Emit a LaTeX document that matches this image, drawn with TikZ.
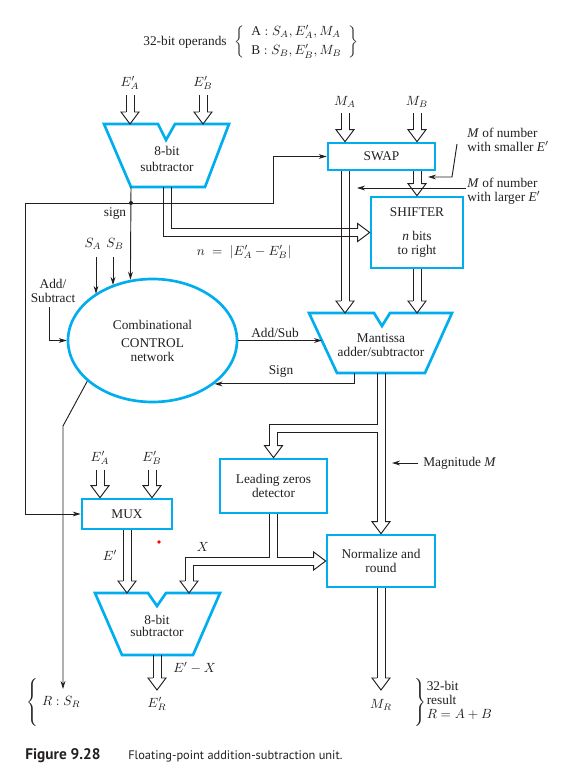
\documentclass[tikz,border=0pt]{standalone}
\usepackage{fontspec}
\setmainfont{Liberation Serif}
\newfontfamily\capfont{PT Sans}
\usetikzlibrary{positioning, calc, arrows.meta, shapes.geometric}
\definecolor{boxblue}{RGB}{0, 174, 239}
\definecolor{ink}{RGB}{35, 31, 32}

\tikzset{
  box/.style={draw=boxblue, line width=2pt, rectangle, inner sep=0pt, align=center},
  alu/.style={draw=boxblue, line width=2pt, line join=miter},
  lbl/.style={inner sep=0pt, outer sep=4pt, text=ink},
  wire/.style={draw=ink, line width=0.7pt},
  sig/.style={wire, -{Stealth[length=6pt, width=3.6pt]}}
}
% open head of a hollow bus, tip at #2, turned by #1
\newcommand{\bushd}[2][-90]{\draw[wire, line join=miter, shift={(#2)}, rotate=#1] (-12,4) -- (-12,9) -- (0,0) -- (-12,-9) -- (-12,-4);}
% straight hollow bus going down from #1 to the tip #2
\newcommand{\vbus}[2]{\draw[wire] ([xshift=-3pt]#1) -- ([xshift=-3pt,yshift=9pt]#2); \draw[wire] ([xshift=3pt]#1) -- ([xshift=3pt,yshift=9pt]#2); \bushd{#2}}

\begin{document}
\begin{tikzpicture}[x=0.75pt, y=-0.75pt, font=\fontsize{10}{10.5}\selectfont, text=ink]
  \useasboundingbox (0,0) rectangle (573,777);

  % operands
  \node[lbl] (ops) at (185,42) {32-bit operands};
  \node[lbl, right=-2pt of ops] (opsAB) {$\left\{\begin{array}{l}\mathrm{A} : S_A, E'_A, M_A\\[4pt] \mathrm{B} : S_B, E'_B, M_B\end{array}\right\}$};

  % exponent subtractor
  \node[lbl] (ea1) at (130,83) {$E'_A$};
  \node[lbl] (eb1) at (203,83) {$E'_B$};
  \draw[alu] (104,124) -- (158,124) -- (166,140) -- (175,124) -- (229,124) -- (205,187) -- (131,187) -- cycle;
  \node[lbl, align=center] (sub1) at (167,159) {8-bit\\[1pt]subtractor};
  \coordinate (s1a) at (130,124);
  \coordinate (s1b) at (203,124);
  \coordinate (s1sign) at (131,187);
  \coordinate (s1n) at (167,187);
  \coordinate (j) at (131,203);

  % swap and shifter
  \node[lbl] (ma) at (345,102) {$M_A$};
  \node[lbl] (mb) at (417,102) {$M_B$};
  \node[box, minimum width=80.25pt, minimum height=20.25pt] (swap) at (381.5,156.5) {SWAP};
  \node[box, minimum width=69pt, minimum height=53.25pt] (shifter) at (417,232.5) {SHIFTER\\[8pt]\textit{n} bits\\to right};
  \node[lbl, anchor=west, align=left] (smallE) at (462,140) {\textit{M} of number\\with smaller \textit{E}$'$};
  \node[lbl, anchor=west, align=left] (largeE) at (462,191) {\textit{M} of number\\with larger \textit{E}$'$};
  \node[lbl] (nlab) at (244,252) {$n\;=\;\left|E'_A - E'_B\right|$};
  \coordinate (swA) at (swap.north -| ma);
  \coordinate (swB) at (swap.north -| mb);
  \coordinate (swAo) at (swap.south -| ma);
  \coordinate (swBo) at (swap.south -| mb);

  % control network
  \node[lbl] (sgn) at (115,214) {sign};
  \node[lbl] (sa) at (93,244) {$S_A$};
  \node[lbl] (sb) at (115,244) {$S_B$};
  \node[lbl, align=center] (addsub) at (53,291) {Add/\\Subtract};
  \node[draw=boxblue, line width=2pt, ellipse, inner sep=0pt, minimum width=126.75pt, minimum height=92.25pt, align=center] (ctrl) at (152.5,340.5) {Combinational\\[3pt]CONTROL\\network};

  % mantissa adder
  \draw[alu] (309,313) -- (374,313) -- (382,326) -- (390,313) -- (452,313) -- (425,373) -- (337,373) -- cycle;
  \node[lbl, align=center] (add) at (381,345) {Mantissa\\adder/subtractor};
  \coordinate (addA) at (345,313);
  \coordinate (addB) at (417,313);
  \coordinate (addin) at (322,340.5);
  \coordinate (addsign) at (354,373);
  \coordinate (addout) at (381,373);
  \coordinate (tap) at (381,428);
  \node[lbl] (addsubl) at (275,333) {Add/Sub};
  \node[lbl] (signl) at (281,372) {Sign};

  % normalization
  \node[box, minimum width=80.25pt, minimum height=40.5pt] (lzd) at (273.5,486) {Leading zeros\\detector};
  \node[box, minimum width=81pt, minimum height=39pt] (norm) at (381,561) {Normalize and\\round};
  \node[lbl, anchor=west] (mag) at (418,463) {Magnitude \textit{M}};

  % exponent adjust
  \node[lbl] (ea2) at (100,458) {$E'_A$};
  \node[lbl] (eb2) at (152,458) {$E'_B$};
  \node[box, minimum width=67.5pt, minimum height=22.5pt] (mux) at (127,514) {MUX};
  \coordinate (muxA) at (mux.north -| ea2);
  \coordinate (muxB) at (mux.north -| eb2);
  \node[lbl] (ep) at (110,555) {$E'$};
  \node[lbl] (xl) at (203,547) {$X$};
  \fill[red] (159,542) circle (1.8);
  \draw[alu] (95,593) -- (148,593) -- (157,606) -- (166,593) -- (220,593) -- (193,655) -- (122,655) -- cycle;
  \node[lbl, align=center] (sub2) at (157,626) {8-bit\\[-2pt]subtractor};
  \coordinate (s2a) at (127,593);
  \coordinate (s2b) at (189,593);
  \coordinate (s2out) at (157,655);
  \coordinate (xcorner) at (s2b |- norm.west);
  \node[lbl, anchor=west] (exl) at (168,668) {$E' - X$};

  % results
  \coordinate (rs) at (63,689);
  \coordinate (er) at (157,690);
  \coordinate (mr) at (381,690);
  \node[lbl] (erl) at (157,704) {$E'_R$};
  \node[lbl] (mrl) at (381,705) {$M_R$};
  \node[lbl, anchor=west] (rsl) at (21,702) {$\left\{\vrule height15pt depth15pt width0pt\right.R : S_R$};
  \node[lbl, anchor=west] (resl) at (408,702) {$\left.\vrule height15pt depth15pt width0pt\right\}$\begin{tabular}{@{}l@{}}32-bit\\result\\$R = A + B$\end{tabular}};

  % caption
  \node[anchor=base west, inner sep=0pt, font=\capfont\bfseries\fontsize{11.5}{13}\selectfont] (figno) at (25,759) {Figure 9.28};
  \node[anchor=base west, inner sep=0pt, font=\capfont\fontsize{9.3}{11}\selectfont] (figcap) at (128,759) {Floating-point addition-subtraction unit.};

  % hollow buses
  \vbus{ea1.south}{s1a}
  \vbus{eb1.south}{s1b}
  \vbus{ma.south}{swA}
  \vbus{mb.south}{swB}
  \vbus{swAo}{addA}
  \vbus{swBo}{shifter.north}
  \vbus{shifter.south}{addB}
  \vbus{ea2.south}{muxA}
  \vbus{eb2.south}{muxB}
  \vbus{mux.south}{s2a}
  \vbus{s2out}{er}
  \vbus{norm.south}{mr}
  % n to the shifter
  \draw[wire] ([xshift=-3pt]s1n) |- ([xshift=-9pt,yshift=-3pt]shifter.west);
  \draw[wire] ([xshift=3pt]s1n) |- ([xshift=-9pt,yshift=3pt]shifter.west);
  \bushd[0]{shifter.west}
  % sum to normalizer, tapped for the leading zeros detector
  \draw[wire] ([xshift=3pt]addout) -- ([xshift=3pt,yshift=9pt]norm.north);
  \draw[wire] ([xshift=-3pt]addout) -- ([xshift=-3pt,yshift=3pt]tap) -| ([xshift=-3pt,yshift=9pt]lzd.north);
  \draw[wire] ([xshift=-3pt,yshift=9pt]norm.north) -- ([xshift=-3pt,yshift=-3pt]tap) -| ([xshift=3pt,yshift=9pt]lzd.north);
  \bushd{norm.north} \bushd{lzd.north}
  % shift count X
  \draw[wire] ([xshift=-3pt]lzd.south) |- ([xshift=-3pt,yshift=3pt]xcorner) -- ([xshift=-3pt,yshift=9pt]s2b);
  \draw[wire] ([xshift=3pt]lzd.south) |- ([xshift=-9pt,yshift=3pt]norm.west);
  \draw[wire] ([xshift=3pt,yshift=9pt]s2b) |- ([xshift=-9pt,yshift=-3pt]norm.west);
  \bushd{s2b} \bushd[0]{norm.west}

  % control lines
  \draw[sig] (s1sign) -- (ctrl.110);
  \draw[sig] (j) -- (25,203) |- (mux.west);
  \draw[sig] (j) -- (273,203) |- (swap.west);
  \fill[ink] (j) circle (2);
  \draw[sig] (96,257) -- (96,257 |- ctrl.141);
  \draw[sig] (113,257) -- (113,257 |- ctrl.126);
  \draw[sig] (49,307) |- (ctrl.west);
  \draw[sig] (ctrl.east) -- (addin);
  \draw[sig] (addsign) |- (ctrl.-35);
  \draw[sig] (ctrl.212) -- (63,426) -- (rs);
  \draw[sig] (457,144) -- (452,177) -- (428,177);
  \draw[sig] (466,188) -- (357,188);
  \draw[sig] (mag.west) -- (392,463);
\end{tikzpicture}
\end{document}
